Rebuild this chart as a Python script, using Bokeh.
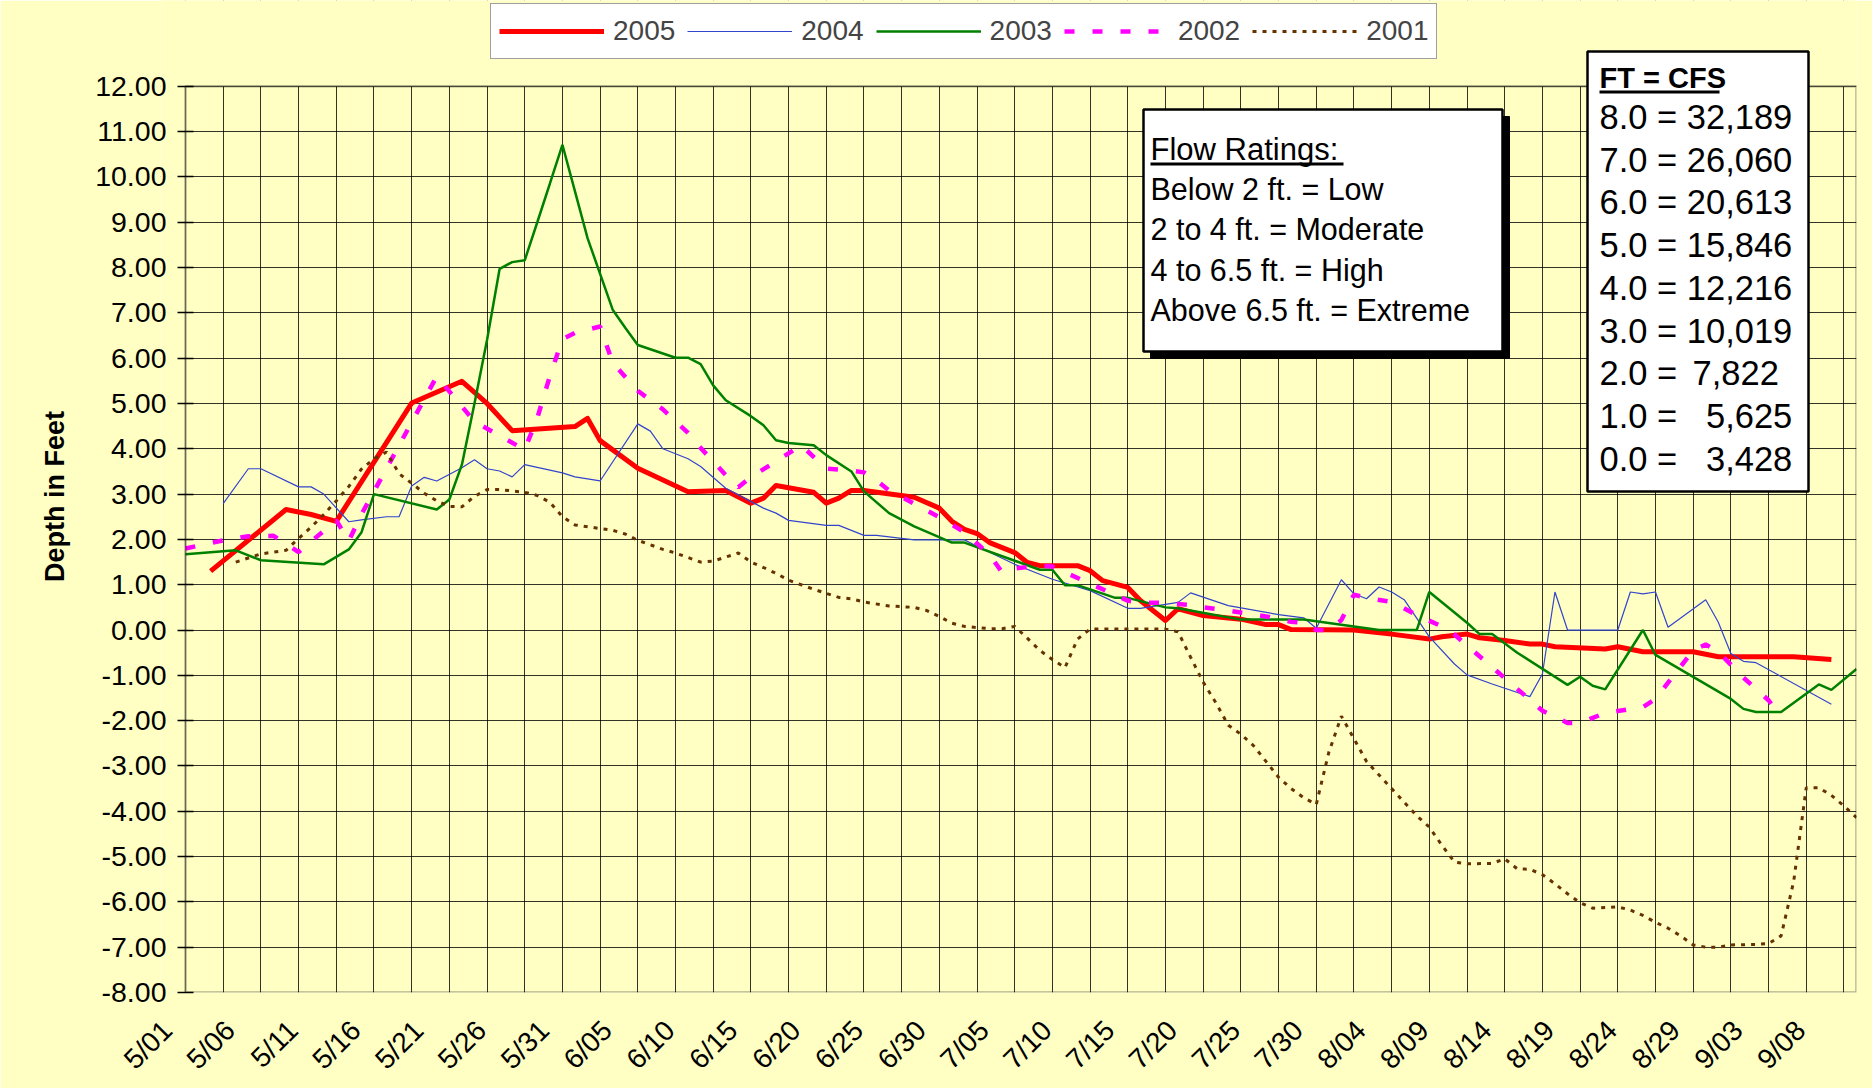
import math
from bokeh.plotting import figure
from bokeh.models import (Range1d, FixedTicker, NumeralTickFormatter,
                          Legend, LegendItem, Label, BoxAnnotation)
from bokeh.embed import file_html
from bokeh.resources import INLINE

FONT = "Liberation Sans"
BG = "#FFFFC4"

# ---------------- data (x = day counted from 5/01 = 0, last category 9/11 = 133) ----------------
tick_labels = ["5/01", "5/06", "5/11", "5/16", "5/21", "5/26", "5/31", "6/05", "6/10", "6/15",
               "6/20", "6/25", "6/30", "7/05", "7/10", "7/15", "7/20", "7/25", "7/30", "8/04",
               "8/09", "8/14", "8/19", "8/24", "8/29", "9/03", "9/08"]
y_ticks = [-8, -7, -6, -5, -4, -3, -2, -1, 0, 1, 2, 3, 4, 5, 6, 7, 8, 9, 10, 11, 12]

day_2005 = [2, 8, 10, 12, 18, 22, 24, 26, 31, 32, 33, 36, 40, 43, 45, 46, 47, 50, 51, 52,
            53, 54, 58, 60, 61, 62, 63, 64, 66, 67, 68, 71, 72, 73, 75, 76, 78, 79, 81, 84,
            86, 87, 88, 93, 96, 99, 100, 102, 103, 105, 107, 108, 109, 113, 114, 116, 120, 122, 128, 131]
depth_2005 = [1.30, 2.66, 2.55, 2.40, 5.01, 5.49, 5.00, 4.40, 4.49, 4.67, 4.18, 3.57, 3.05, 3.08, 2.80, 2.91, 3.19, 3.04, 2.80, 2.91,
              3.08, 3.08, 2.93, 2.69, 2.40, 2.22, 2.13, 1.93, 1.71, 1.49, 1.42, 1.42, 1.31, 1.09, 0.94, 0.65, 0.21, 0.47, 0.32, 0.24,
              0.12, 0.12, 0.01, 0.00, -0.09, -0.20, -0.15, -0.09, -0.17, -0.23, -0.31, -0.31, -0.37, -0.42, -0.37, -0.48, -0.48, -0.59, -0.59, -0.65]

day_2004 = [3, 5, 6, 9, 10, 11, 13, 14, 16, 17, 18, 19, 20, 22, 23, 24, 25, 26, 27, 30,
            31, 33, 36, 37, 38, 40, 41, 43, 46, 47, 48, 51, 52, 54, 55, 58, 62, 63, 66, 69,
            72, 75, 76, 79, 80, 83, 87, 89, 90, 92, 93, 94, 95, 96, 97, 99, 101, 102, 104, 107,
            108, 109, 110, 114, 115, 116, 117, 118, 121, 122, 123, 124, 125, 131]
depth_2004 = [2.79, 3.56, 3.56, 3.16, 3.16, 3.00, 2.39, 2.43, 2.50, 2.50, 3.18, 3.37, 3.29, 3.58, 3.76, 3.56, 3.51, 3.38, 3.65, 3.47,
              3.38, 3.29, 4.55, 4.39, 4.00, 3.78, 3.61, 3.13, 2.69, 2.58, 2.42, 2.31, 2.31, 2.09, 2.09, 1.99, 1.99, 1.85, 1.45, 1.12,
              0.87, 0.48, 0.48, 0.61, 0.82, 0.54, 0.34, 0.27, 0.04, 1.11, 0.80, 0.69, 0.95, 0.84, 0.67, -0.15, -0.75, -0.99, -1.19, -1.47,
              -0.97, 0.84, 0.00, 0.00, 0.84, 0.80, 0.84, 0.06, 0.67, 0.17, -0.52, -0.69, -0.72, -1.64]

day_2003 = [0, 4, 6, 11, 13, 14, 15, 20, 21, 22, 23, 24, 25, 26, 27, 28, 29, 30, 31, 32,
            34, 35, 36, 39, 40, 41, 42, 43, 45, 46, 47, 48, 50, 51, 53, 54, 56, 58, 61, 62,
            66, 68, 69, 70, 71, 74, 75, 78, 79, 84, 89, 95, 98, 99, 102, 103, 104, 106, 110, 111,
            112, 113, 116, 117, 123, 124, 125, 127, 130, 131, 133]
depth_2003 = [1.67, 1.76, 1.54, 1.45, 1.78, 2.15, 3.00, 2.66, 2.88, 3.65, 5.00, 6.40, 7.97, 8.12, 8.16, 9.00, 9.85, 10.71, 9.68, 8.65,
              7.07, 6.67, 6.29, 6.01, 6.01, 5.87, 5.40, 5.07, 4.72, 4.52, 4.19, 4.13, 4.08, 3.86, 3.50, 3.06, 2.58, 2.29, 1.93, 1.93,
              1.53, 1.33, 1.33, 0.99, 0.99, 0.71, 0.71, 0.50, 0.48, 0.23, 0.23, 0.00, 0.00, 0.84, 0.16, -0.09, -0.09, -0.50, -1.21, -1.03,
              -1.23, -1.31, 0.00, -0.55, -1.52, -1.74, -1.81, -1.81, -1.20, -1.32, -0.86]

day_2002 = [0, 3, 5, 7, 9, 12, 13, 14, 20, 23, 27, 28, 29, 30, 31, 33, 34, 36, 38, 40,
            41, 43, 44, 45, 47, 49, 51, 53, 54, 55, 56, 58, 60, 62, 64, 65, 66, 68, 69, 75,
            76, 78, 80, 81, 83, 85, 86, 88, 89, 90, 91, 92, 93, 94, 96, 98, 100, 101, 108, 110,
            111, 113, 116, 117, 120, 121, 122, 124, 126, 127]
depth_2002 = [1.80, 1.98, 2.07, 2.08, 1.72, 2.42, 1.97, 2.55, 5.60, 4.60, 3.98, 4.68, 5.60, 6.42, 6.56, 6.70, 5.90, 5.28, 4.87, 4.35,
              4.02, 3.42, 3.15, 3.38, 3.72, 4.08, 3.56, 3.52, 3.48, 3.30, 3.08, 2.79, 2.49, 2.16, 1.66, 1.27, 1.36, 1.42, 1.40, 0.65,
              0.60, 0.60, 0.55, 0.50, 0.43, 0.34, 0.30, 0.18, 0.16, 0.00, 0.00, 0.22, 0.78, 0.71, 0.62, 0.33, 0.08, -0.10, -1.78, -2.05,
              -2.05, -1.83, -1.70, -1.52, -0.45, -0.32, -0.48, -1.05, -1.55, -1.92]

day_2001 = [4, 6, 8, 9, 10, 11, 12, 13, 14, 15, 16, 17, 18, 19, 20, 21, 22, 23, 24, 25,
            27, 28, 29, 30, 31, 33, 34, 35, 36, 37, 38, 39, 40, 41, 42, 44, 45, 46, 47, 48,
            49, 50, 52, 53, 54, 56, 58, 59, 60, 61, 62, 64, 65, 66, 67, 68, 69, 70, 71, 72,
            78, 79, 80, 81, 82, 83, 84, 85, 86, 87, 88, 89, 90, 91, 92, 93, 94, 95, 96, 97,
            98, 99, 100, 101, 102, 104, 105, 106, 107, 108, 109, 110, 111, 112, 114, 115, 116, 117, 118, 119,
            120, 121, 122, 123, 125, 126, 127, 128, 129, 130, 131, 132, 133]
depth_2001 = [1.50, 1.68, 1.76, 2.02, 2.27, 2.55, 2.85, 3.17, 3.55, 3.78, 3.93, 3.45, 3.24, 3.02, 2.85, 2.73, 2.72, 2.95, 3.10, 3.10,
              3.04, 2.97, 2.82, 2.50, 2.32, 2.24, 2.20, 2.12, 1.98, 1.88, 1.78, 1.70, 1.60, 1.50, 1.52, 1.70, 1.50, 1.38, 1.25, 1.10,
              1.00, 0.90, 0.72, 0.69, 0.62, 0.53, 0.50, 0.43, 0.30, 0.15, 0.08, 0.03, 0.03, 0.08, -0.18, -0.45, -0.65, -0.83, -0.20, 0.02,
              0.02, -0.04, -0.60, -1.15, -1.60, -2.10, -2.30, -2.55, -2.90, -3.25, -3.50, -3.70, -3.85, -2.70, -1.90, -2.40, -2.90, -3.20, -3.50, -3.80,
              -4.10, -4.35, -4.75, -5.12, -5.16, -5.15, -5.05, -5.27, -5.28, -5.40, -5.60, -5.82, -6.02, -6.14, -6.11, -6.18, -6.30, -6.45, -6.58, -6.75,
              -6.95, -7.00, -7.00, -6.95, -6.94, -6.92, -6.75, -5.55, -3.48, -3.48, -3.65, -3.88, -4.14]

flow_title = "Flow Ratings:"
flow_lines = ["Below 2 ft. = Low", "2 to 4 ft. = Moderate", "4 to 6.5 ft. = High", "Above 6.5 ft. = Extreme"]
cfs_title = "FT = CFS"
cfs_lines = ["8.0 = 32,189", "7.0 = 26,060", "6.0 = 20,613", "5.0 = 15,846", "4.0 = 12,216",
             "3.0 = 10,019", "2.0 = \u20067,822", "1.0 = \u00a0\u00a05,625", "0.0 = \u00a0\u00a03,428"]

# ---------------- layout constants (page pixels) ----------------
W, H = 1872, 1088
PLOT_L, PLOT_R, PLOT_B = 185, 1856, 994        # plot area (grid box) in page px
FRAME_L = 160                                  # frame starts a bit left of the plot area (room for first label)
GAP = PLOT_L - FRAME_L
X_MIN, X_MAX = 0, 133
Y_MIN, Y_MAX = -8, 12
PX_PER_DAY = (PLOT_R - PLOT_L) / (X_MAX - X_MIN)
PX_PER_FT = 45.4
X_START = X_MIN - GAP / PX_PER_DAY
Y_TOP = Y_MIN + PLOT_B / PX_PER_FT             # frame reaches the page top (room for legend/boxes)
LABEL_SHIFT = -1.45                            # x-label anchor shift (days) to mimic Excel placement
TICK = 8                                       # y tick half-length (Excel "cross" ticks)
YLABEL_GAP = 11                                # gap between tick end and y tick labels

p = figure(width=W, height=H, output_backend="svg", toolbar_location=None,
           x_range=Range1d(X_START, X_MAX), y_range=Range1d(Y_MIN, Y_TOP),
           min_border_left=FRAME_L, min_border_right=W - PLOT_R, min_border_top=0,
           min_border_bottom=H - PLOT_B,
           background_fill_color=BG, border_fill_color=BG)
p.outline_line_color = None

# x axis (labels every 5 days)
tick_pos = [5 * i + LABEL_SHIFT for i in range(len(tick_labels))]
p.xaxis.ticker = FixedTicker(ticks=tick_pos)
p.xaxis.major_label_overrides = {t: lab for t, lab in zip(tick_pos, tick_labels)}
p.xaxis.major_label_orientation = math.pi / 4
p.xaxis.major_tick_in = 0
p.xaxis.major_tick_out = 0
p.xaxis.minor_tick_line_color = None
p.xaxis.axis_line_color = None
p.xaxis.major_label_text_font = FONT
p.xaxis.major_label_text_font_size = "28px"
p.xaxis.major_label_text_color = "black"
p.xaxis.major_label_standoff = 33

# y axis: sits at the frame edge; ticks/labels offset so they line up with the plot-area edge
p.yaxis.ticker = FixedTicker(ticks=y_ticks)
p.yaxis.bounds = (Y_MIN, Y_MAX)
p.yaxis.formatter = NumeralTickFormatter(format="0.00")
p.yaxis.major_tick_out = TICK - GAP
p.yaxis.major_tick_in = TICK + GAP
p.yaxis.major_tick_line_width = 1.5
p.yaxis.minor_tick_line_color = None
p.yaxis.axis_line_color = None
p.yaxis.major_label_text_font = FONT
p.yaxis.major_label_text_font_size = "28.5px"
p.yaxis.major_label_text_color = "black"
p.yaxis.major_label_standoff = TICK + YLABEL_GAP - GAP
p.yaxis.axis_label = "Depth in Feet"
p.yaxis.axis_label_text_font = FONT
p.yaxis.axis_label_text_font_size = "27px"
p.yaxis.axis_label_text_font_style = "bold"
p.yaxis.axis_label_text_color = "black"
p.yaxis.axis_label_standoff = 22

# grids: vertical every 3 days, horizontal every foot
p.xgrid.ticker = FixedTicker(ticks=list(range(X_MIN, X_MAX + 1, 3)))
p.xgrid.grid_line_color = "black"
p.xgrid.grid_line_alpha = 0.8
p.ygrid.ticker = FixedTicker(ticks=y_ticks)
p.ygrid.grid_line_color = "black"
p.ygrid.grid_line_alpha = 0.8

# cover the grid outside the plot area (left strip and top strip)
p.add_layout(BoxAnnotation(left=X_START, right=X_MIN, bottom=Y_MIN, top=Y_TOP, level="underlay",
                           fill_color=BG, fill_alpha=1.0, line_color=None))
p.add_layout(BoxAnnotation(left=X_START, right=X_MAX, bottom=Y_MAX, top=Y_TOP, level="underlay",
                           fill_color=BG, fill_alpha=1.0, line_color=None))

# series (Excel order: 2005 drawn first)
r05 = p.line(day_2005, depth_2005, line_color="#FF0000", line_width=5, line_join="round")
r04 = p.line(day_2004, depth_2004, line_color="#3344CC", line_width=1.2)
r03 = p.line(day_2003, depth_2003, line_color="#008000", line_width=2.5)
r02 = p.line(day_2002, depth_2002, line_color="#FF00FF", line_width=4.5, line_dash="10 18")
r01 = p.line(day_2001, depth_2001, line_color="#663300", line_width=3, line_dash="4 6")

# plot-area border
p.add_layout(BoxAnnotation(left=X_MIN, right=X_MAX, bottom=Y_MIN, top=Y_MAX,
                           fill_alpha=0.0, line_color="black", line_width=2.5))

legend = Legend(items=[LegendItem(label="2005", renderers=[r05]),
                       LegendItem(label="2004", renderers=[r04]),
                       LegendItem(label="2003", renderers=[r03]),
                       LegendItem(label="2002", renderers=[r02]),
                       LegendItem(label="2001", renderers=[r01])],
                orientation="horizontal", location=(490 - FRAME_L, PLOT_B - 61), margin=0,
                padding=8, spacing=12, glyph_width=105, glyph_height=38, label_height=38,
                label_standoff=9, label_text_font=FONT, label_text_font_size="28px",
                background_fill_color="white", background_fill_alpha=1.0,
                border_line_color="#404040", border_line_width=1.5)
p.add_layout(legend)

# ---------------- text boxes (screen units relative to frame bottom-left) ----------------
def box(x1, x2, y1, y2, fill, line, lw):
    # x1..x2, y1..y2 in page pixels (y downward)
    p.add_layout(BoxAnnotation(left=x1 - FRAME_L, right=x2 - FRAME_L,
                               bottom=PLOT_B - y2, top=PLOT_B - y1,
                               left_units="screen", right_units="screen",
                               bottom_units="screen", top_units="screen",
                               fill_color=fill, fill_alpha=1.0,
                               line_color=line, line_width=lw, line_alpha=1.0))

def label(x, y, text, size, bold=False):
    p.add_layout(Label(x=x - FRAME_L, y=PLOT_B - y, x_units="screen", y_units="screen", text=text,
                       text_font=FONT, text_font_size=size, text_color="black",
                       text_font_style="bold" if bold else "normal",
                       text_baseline="middle", text_align="left"))

# Flow ratings box with shadow
box(1150, 1509, 118, 360, "black", "black", 1)
box(1143, 1502, 111, 353, "white", "black", 2.5)
label(1150, 151, flow_title, "31px")
box(1150, 1343, 164, 167, "black", None, 0)
for i, t in enumerate(flow_lines):
    label(1150, 190 + i * 40.6, t, "30.5px")

# FT = CFS box
box(1587, 1808, 53, 493, "white", "black", 2.5)
label(1599, 79, cfs_title, "29px", bold=True)
box(1599, 1719, 92, 95, "black", None, 0)
for i, t in enumerate(cfs_lines):
    label(1599, 118.5 + i * 42.7, t, "34.5px")

open("out.html", "w").write(file_html(p, INLINE))
